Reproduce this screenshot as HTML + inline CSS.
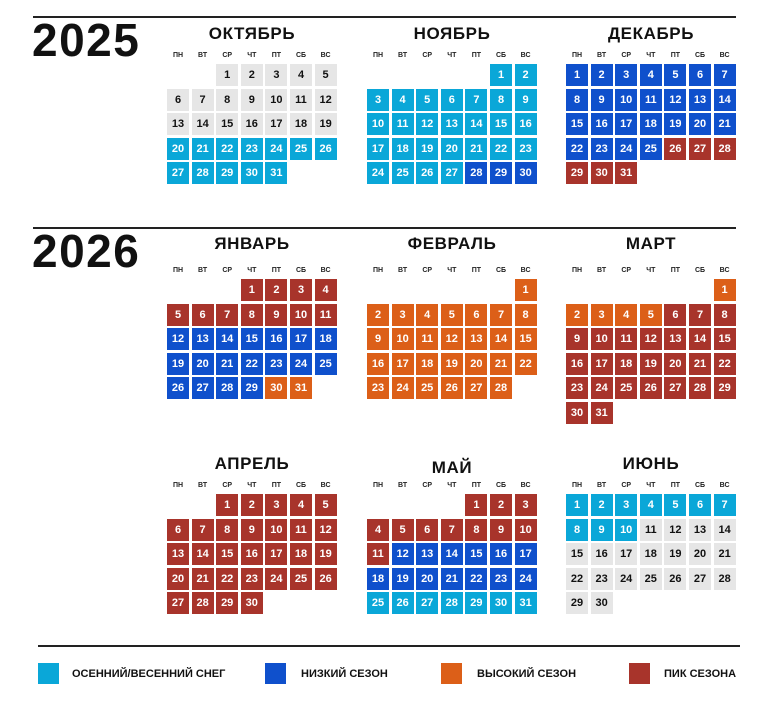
<!DOCTYPE html>
<html><head><meta charset="utf-8">
<style>
body{margin:0;width:780px;height:710px;background:#fff;font-family:"Liberation Sans",sans-serif;position:relative;overflow:hidden}
.abs{position:absolute}
.year{font-weight:bold;font-size:46px;color:#111;letter-spacing:1.5px}
.line{background:#222;height:1.5px}
.title{font-weight:bold;font-size:17px;color:#111;text-align:center;width:170px;letter-spacing:0.6px}
.hd{font-weight:bold;font-size:7px;color:#222;width:22px;text-align:center}
.cell{width:22px;height:22px;font-weight:bold;font-size:11px;line-height:22px;text-align:center;color:#fff}
.leg{width:21px;height:21px}
.lt{font-weight:bold;font-size:11px;color:#111}
</style></head><body>
<div class="abs year" style="left:32px;top:13px">2025</div>
<div class="abs year" style="left:32px;top:224px">2026</div>
<div class="abs line" style="left:33px;top:16px;width:703px"></div>
<div class="abs line" style="left:33px;top:227px;width:703px"></div>
<div class="abs line" style="left:38px;top:645px;width:702px"></div>
<div id="cal"></div>
<div class="abs leg" style="left:38px;top:663px;background:#0aa7d8"></div>
<div class="abs lt" style="left:72px;top:668px">ОСЕННИЙ/ВЕСЕННИЙ СНЕГ</div>
<div class="abs leg" style="left:265px;top:663px;background:#0f50cc"></div>
<div class="abs lt" style="left:301px;top:668px">НИЗКИЙ СЕЗОН</div>
<div class="abs leg" style="left:441px;top:663px;background:#dc5f18"></div>
<div class="abs lt" style="left:477px;top:668px">ВЫСОКИЙ СЕЗОН</div>
<div class="abs leg" style="left:629px;top:663px;background:#a8342b"></div>
<div class="abs lt" style="left:664px;top:668px">ПИК СЕЗОНА</div>
<script>
const monthNames=["ОКТЯБРЬ","НОЯБРЬ","ДЕКАБРЬ","ЯНВАРЬ","ФЕВРАЛЬ","МАРТ","АПРЕЛЬ","МАЙ","ИЮНЬ"];
const monthDays=[31,30,31,31,28,31,30,31,30];
const firstWeekday=[2,5,0,3,6,6,2,4,0];
// season segments per month: [lastDay, season] ; g=none,c=shoulder,b=low,o=high,r=peak
const seasons=[
 [[19,"g"],[31,"c"]],
 [[27,"c"],[30,"b"]],
 [[25,"b"],[31,"r"]],
 [[11,"r"],[29,"b"],[31,"o"]],
 [[28,"o"]],
 [[5,"o"],[31,"r"]],
 [[30,"r"]],
 [[11,"r"],[24,"b"],[31,"c"]],
 [[10,"c"],[30,"g"]]
];
const dayHeaders=["ПН","ВТ","СР","ЧТ","ПТ","СБ","ВС"];
const colors={g:"#e6e6e6",c:"#0aa7d8",b:"#0f50cc",o:"#dc5f18",r:"#a8342b"};
const colX=[167,367,566], rowY=[64,279,494], titleY=[24,234,454], P=24.6;
const cal=document.getElementById('cal');
function mk(cls,txt,l,t,name){const d=document.createElement('div');d.className='abs '+cls;d.textContent=txt;d.style.left=l+'px';d.style.top=t+'px';


cal.appendChild(d);return d;}
monthNames.forEach((m,i)=>{
 const x=colX[i%3], y=rowY[Math.floor(i/3)];
 const ty=titleY[Math.floor(i/3)]+(i==7?4:0);
 mk('title',m,x,ty,'month-title');
 dayHeaders.forEach((h,k)=>mk('hd',h,x+k*P,y-12,'weekday-header'));
 for(let d=1;d<=monthDays[i];d++){
  const idx=firstWeekday[i]+d-1, c=idx%7, r=Math.floor(idx/7);
  let s="g";for(const seg of seasons[i]){if(d<=seg[0]){s=seg[1];break;}}
  const el=mk('cell',d,x+c*P,y+r*P,'day-cell');
  el.style.background=colors[s];
  if(s=="g")el.style.color="#111";
 }
});
</script>
</body></html>
